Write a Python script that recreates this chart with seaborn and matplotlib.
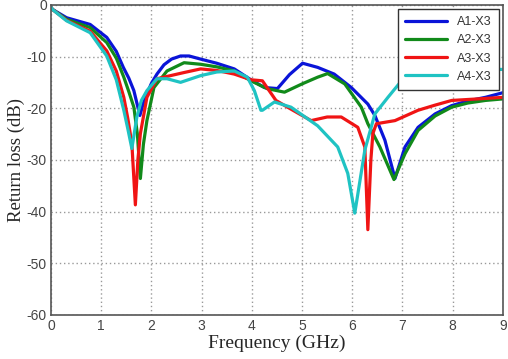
import pandas as pd
import seaborn as sns
import matplotlib.pyplot as plt

# A1-X3 (blue)
a1_freq = [0.0, 0.03, 0.31, 0.78, 1.11, 1.3, 1.44, 1.55, 1.65, 1.77, 1.84, 1.91, 2.0, 2.11, 2.25, 2.4, 2.58, 2.75,
           2.98, 3.3, 3.65, 3.98, 4.25, 4.51, 4.75, 5.01, 5.31, 5.64, 5.98, 6.31, 6.45, 6.65, 6.85, 7.05, 7.31,
           7.65, 7.98, 8.3, 8.65, 9.0]
a1_loss = [-0.5, -0.9, -2.5, -3.8, -6.3, -9.0, -12.1, -14.2, -16.6, -21.4, -19.0, -17.2, -15.2, -13.4, -11.6, -10.5, -9.9, -9.9,
           -10.5, -11.3, -12.4, -14.5, -16.0, -16.2, -13.5, -11.3, -12.1, -13.4, -16.0, -19.2, -21.4, -26.2, -33.6, -27.5, -23.7,
           -21.1, -19.5, -18.6, -17.9, -17.0]

# A2-X3 (green)
a2_freq = [0.0, 0.03, 0.31, 0.78, 1.11, 1.3, 1.45, 1.55, 1.65, 1.72, 1.78, 1.84, 1.91, 2.05, 2.31, 2.65, 2.98, 3.3,
           3.65, 3.98, 4.3, 4.65, 5.0, 5.31, 5.51, 5.85, 6.18, 6.31, 6.55, 6.83, 7.05, 7.31, 7.65, 7.98, 8.3, 8.65, 9.0]
a2_loss = [-0.5, -0.9, -2.8, -4.4, -7.3, -10.3, -14.0, -16.8, -19.8, -25.0, -33.6, -27.0, -22.4, -16.0, -12.8, -11.2, -11.5, -12.0,
           -12.8, -14.7, -16.2, -16.9, -15.3, -14.0, -13.3, -15.3, -19.8, -23.0, -27.5, -33.8, -28.8, -24.3, -21.5, -19.8, -19.0, -18.5, -18.2]

# A3-X3 (red)
a3_freq = [0.0, 0.03, 0.31, 0.78, 1.11, 1.3, 1.45, 1.53, 1.61, 1.68, 1.73, 1.78, 1.91, 2.11, 2.65, 2.98, 3.3, 3.65,
           3.98, 4.21, 4.48, 4.71, 5.18, 5.5, 5.78, 6.11, 6.25, 6.31, 6.37, 6.41, 6.48, 6.85, 7.31, 7.65, 7.98, 8.5, 9.0]
a3_loss = [-0.5, -0.9, -3.0, -5.1, -8.9, -12.8, -17.9, -22.0, -26.8, -38.7, -30.0, -24.9, -17.9, -14.3, -13.1, -12.4, -12.7, -13.4,
           -14.5, -14.7, -18.5, -19.8, -22.4, -21.7, -21.7, -23.7, -27.5, -43.5, -30.0, -24.9, -23.0, -22.4, -20.4, -19.4, -18.5, -18.2, -17.9]

# A4-X3 (cyan) - the tail past 7 GHz sits behind the legend
a4_freq = [0.0, 0.03, 0.31, 0.78, 1.11, 1.3, 1.45, 1.53, 1.61, 1.71, 1.8, 1.91, 2.11, 2.31, 2.58, 2.98, 3.3, 3.65,
           3.91, 4.05, 4.18, 4.21, 4.45, 4.78, 5.31, 5.71, 5.91, 6.05, 6.25, 6.45, 6.71, 6.98, 7.3, 7.7, 8.2, 8.6, 9.0]
a4_loss = [-0.5, -0.9, -3.1, -5.4, -9.9, -14.5, -20.4, -24.0, -27.8, -21.7, -18.5, -16.6, -14.3, -14.3, -15.0, -13.7, -13.0, -12.8,
           -14.0, -16.6, -20.4, -20.4, -18.8, -19.8, -23.4, -27.5, -32.6, -40.3, -28.1, -21.1, -17.9, -14.7, -13.0, -12.5, -12.5, -12.5, -12.5]

series_names = ['A1-X3', 'A2-X3', 'A3-X3', 'A4-X3']
series_colors = ['#0a14d8', '#118a1a', '#f01414', '#1fc3c3']

frames = []
for name, f, l in zip(series_names, [a1_freq, a2_freq, a3_freq, a4_freq],
                      [a1_loss, a2_loss, a3_loss, a4_loss]):
    frames.append(pd.DataFrame({'freq': f, 'loss': l, 'antenna': name}))
df = pd.concat(frames, ignore_index=True)

sns.set_style('white')
plt.rcParams['font.family'] = ['Liberation Sans', 'DejaVu Sans']
plt.rcParams['axes.unicode_minus'] = False

fig = plt.figure(figsize=(5.08, 3.59), dpi=100)
ax = fig.add_axes([0.1004, 0.1226, 0.8896, 0.864])

sns.lineplot(data=df, x='freq', y='loss', hue='antenna', palette=series_colors,
             linewidth=2.3, ax=ax, sort=False, estimator=None)

ax.set_xlim(0, 9)
ax.set_ylim(-60, 0)
ax.set_xticks(range(0, 10))
ax.set_yticks(range(-60, 1, 10))
ax.grid(True, linestyle=(0, (1, 2)), color='#999999', linewidth=1.0)
for s in ax.spines.values():
    s.set_color('#555555')
    s.set_linewidth(1.2)
ax.tick_params(direction='in', colors='#555555', labelsize=10, length=4, pad=3)
for lab in ax.get_xticklabels() + ax.get_yticklabels():
    lab.set_color('#444444')

ax.set_xlabel('Frequency (GHz)', family='Liberation Serif', fontsize=14, labelpad=1)
ax.set_ylabel('Return loss (dB)', family='Liberation Serif', fontsize=13.5)
ax.yaxis.set_label_coords(-0.058, 0.5)

leg = ax.legend(loc='upper right', fontsize=9, frameon=True, fancybox=False, framealpha=1.0,
                handlelength=3.4, borderaxespad=0.35, labelspacing=0.5, borderpad=0.55)
leg.get_frame().set_edgecolor('#333333')
leg.get_frame().set_linewidth(1.0)
for t in leg.get_texts():
    t.set_color('#333333')

fig.savefig('out.png', dpi=100)
